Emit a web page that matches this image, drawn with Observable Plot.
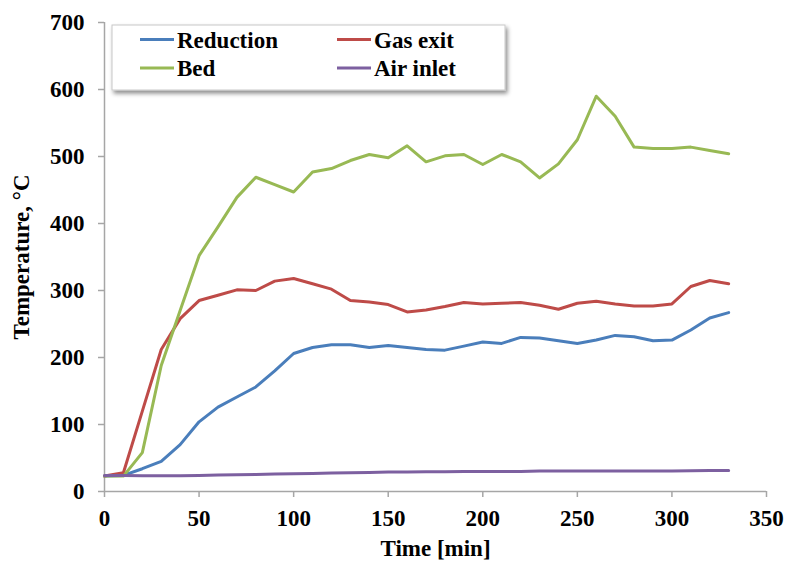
<!DOCTYPE html>
<html>
<head>
<meta charset="utf-8">
<script src="https://cdn.jsdelivr.net/npm/d3@7"></script>
<script src="https://cdn.jsdelivr.net/npm/@observablehq/plot@0.6"></script>
<style>
  html, body { margin: 0; padding: 0; background: #fff; }
  #chart { position: relative; width: 787px; height: 565px; }
</style>
</head>
<body>
<div id="chart"></div>
<script>
const time = [0,10,20,30,40,50,60,70,80,90,100,110,120,130,140,150,160,170,180,190,200,210,220,230,240,250,260,270,280,290,300,310,320,330];
const reduction = [23,24,34,45,70,104,126,141,156,180,206,215,219,219,215,218,215,212,211,217,223,221,230,229,225,221,226,233,231,225,226,241,259,267];
const gasExit = [23,28,120,212,258,285,293,301,300,314,318,310,302,285,283,279,268,271,276,282,280,281,282,278,272,281,284,280,277,277,280,306,315,310];
const bed = [23,23,58,188,270,352,395,439,469,458,447,477,482,494,503,498,516,492,501,503,488,503,492,468,489,525,590,560,514,512,512,514,509,504];
const airInlet = [24,24,23.5,23.5,23.5,24,24.5,25,25.5,26,26.5,27,27.5,28,28.5,29,29,29.5,29.5,30,30,30,30,30.5,30.5,30.5,30.5,30.5,30.5,30.5,30.5,31,31.5,31.5];
const seriesNames = ["Reduction","Gas exit","Bed","Air inlet"];
const seriesColors = ["#4a7ebb","#be4b48","#98b954","#7d60a0"];
const xTicks = [0,50,100,150,200,250,300,350];
const yTicks = [0,100,200,300,400,500,600,700];

const allValues = [reduction, gasExit, bed, airInlet];
const data = [];
seriesNames.forEach((name, i) => {
  time.forEach((t, j) => data.push({series: name, time: t, temp: allValues[i][j]}));
});

const font = "'Liberation Serif', 'Times New Roman', serif";
const axisColor = "#a6a6a6";

const chart = Plot.plot({
  width: 787,
  height: 565,
  marginLeft: 104,
  marginRight: 21,
  marginTop: 22,
  marginBottom: 74,
  style: {fontFamily: font, fontSize: "23px", fontWeight: "bold", color: "#000", background: "#fff"},
  x: {domain: [0, 350]},
  y: {domain: [0, 700]},
  color: {domain: seriesNames, range: seriesColors},
  marks: [
    Plot.ruleY([0], {stroke: axisColor, strokeWidth: 1.5}),
    Plot.ruleX([0], {stroke: axisColor, strokeWidth: 1.5}),
    Plot.axisX({ticks: xTicks, tickSize: 6, tickPadding: 12, stroke: axisColor, strokeWidth: 1.5,
      label: "Time [min]", labelAnchor: "center", labelArrow: "none", labelOffset: 64, fill: "#000"}),
    Plot.axisY({ticks: yTicks, tickSize: 6, tickPadding: 14, stroke: axisColor, strokeWidth: 1.5,
      label: "Temperature, °C", labelAnchor: "center", labelArrow: "none", labelOffset: 92, fill: "#000"}),
    Plot.line(data, {x: "time", y: "temp", stroke: "series", z: "series", strokeWidth: 3, curve: "linear"})
  ]
});
document.getElementById("chart").appendChild(chart);

// Legend box (inside the plot area, top-left)
const svg = d3.select(chart);
const defs = svg.append("defs");
const f = defs.append("filter").attr("id", "shadow").attr("x", "-10%").attr("y", "-20%").attr("width", "130%").attr("height", "160%");
f.append("feDropShadow").attr("dx", 2).attr("dy", 3).attr("stdDeviation", 2).attr("flood-color", "#000").attr("flood-opacity", 0.45);
const lg = svg.append("g").attr("text-anchor", "start");
lg.append("rect").attr("x", 112).attr("y", 25).attr("width", 393).attr("height", 65)
  .attr("fill", "#fff").attr("stroke", "#c8c8c8").attr("stroke-width", 1).attr("filter", "url(#shadow)");
const pos = [[140, 39.5], [337, 39.5], [140, 68], [337, 68]];
seriesNames.forEach((name, i) => {
  const [x, y] = pos[i];
  lg.append("line").attr("x1", x).attr("x2", x + 34).attr("y1", y).attr("y2", y)
    .attr("stroke", seriesColors[i]).attr("stroke-width", 3);
  lg.append("text").attr("x", x + 37).attr("y", y + 8).text(name)
    .attr("text-anchor", "start")
    .attr("font-family", font).attr("font-size", 23).attr("font-weight", "bold").attr("fill", "#000");
});
</script>
</body>
</html>
